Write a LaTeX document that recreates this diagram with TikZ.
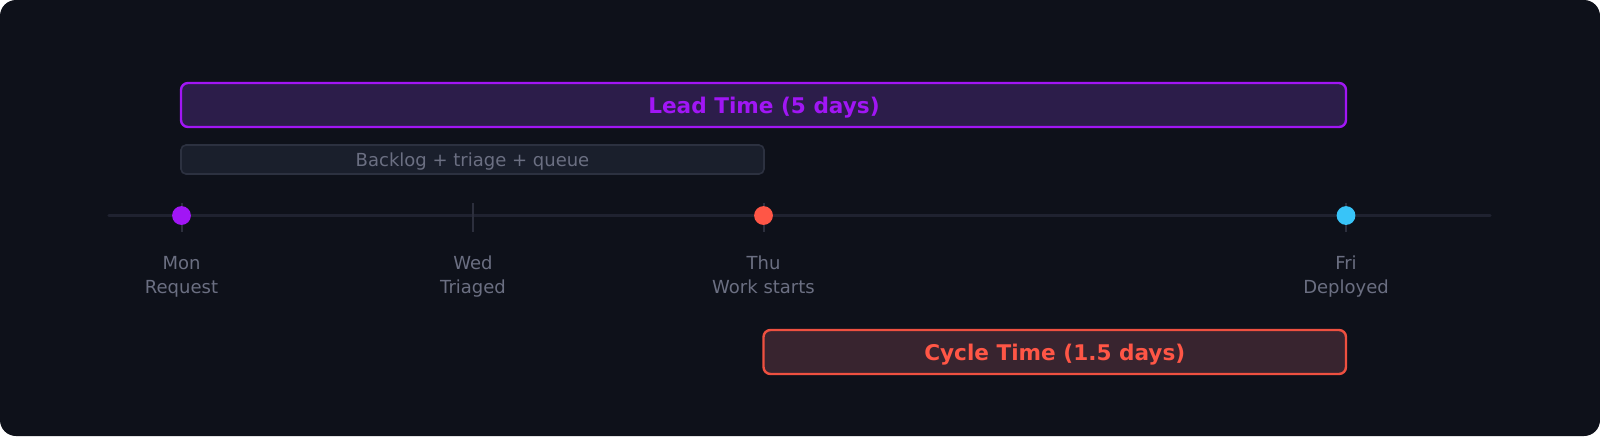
\documentclass[tikz,border=0pt]{standalone}
\usepackage{fontspec}
\setmainfont{DejaVu Sans}
\definecolor{bg}{HTML}{0E111A}
\definecolor{leadc}{HTML}{A116F5}
\definecolor{leadfill}{HTML}{2C1D4A}
\definecolor{cycc}{HTML}{FF5646}
\definecolor{cycline}{HTML}{EE5040}
\definecolor{cycfill}{HTML}{38242F}
\definecolor{bluec}{HTML}{38C4F8}
\definecolor{backfill}{HTML}{1A1F2C}
\definecolor{backline}{HTML}{2C3140}
\definecolor{axisc}{HTML}{1F2230}
\definecolor{tickc}{HTML}{2C2F3D}
\definecolor{labc}{HTML}{6B6F82}
\begin{document}
\begin{tikzpicture}[x=0.5pt,y=-0.5pt,
  lbl/.style={font=\fontsize{9}{11}\selectfont, text=labc, anchor=base, inner sep=0},
  bigtxt/.style={font=\fontsize{10.8}{13}\selectfont\bfseries, anchor=base, inner sep=0},
  tick/.style={draw=tickc, line width=1pt},
  dot/.style={circle, inner sep=0, minimum size=9.4pt}]
\useasboundingbox (0,0) rectangle (1600,436);
\fill[white] (0,0) rectangle (1600,436);
\fill[bg, rounded corners=8pt] (0,0) rectangle (1600,436);

% lead time box
\draw[draw=leadc, fill=leadfill, line width=1.2pt, rounded corners=3.5pt] (181,83) rectangle (1346,127);
\node[bigtxt, text=leadc] (lead) at (764,113) {Lead Time (5 days)};

% backlog box
\draw[draw=backline, fill=backfill, line width=0.8pt, rounded corners=2.5pt] (181,145) rectangle (764,174);
\node[lbl] (backlog) at (472.5,166) {Backlog + triage + queue};

% axis
\coordinate (axL) at (109,215.5);
\coordinate (axR) at (1490,215.5);
\draw[axisc, line width=1.6pt, line cap=round] (axL) -- (axR);

% ticks
\foreach \n/\x in {mon/181.5, wed/473, thu/763.5, fri/1346}{
  \coordinate (\n t) at (\x,203);
  \coordinate (\n b) at (\x,232);
  \draw[tick] (\n t) -- (\n b);
}

% dots
\node[dot, fill=leadc] (mon) at (181.5,215.5) {};
\node[dot, fill=cycc] (thu) at (763.5,215.5) {};
\node[dot, fill=bluec] (fri) at (1346,215.5) {};

% labels
\node[lbl] (l1a) at (181.5,269) {Mon};
\node[lbl] (l1b) at (181.5,293.5) {Request};
\node[lbl] (l2a) at (473,269) {Wed};
\node[lbl] (l2b) at (473,293.5) {Triaged};
\node[lbl] (l3a) at (763.5,269) {Thu};
\node[lbl] (l3b) at (763.5,293.5) {Work starts};
\node[lbl] (l4a) at (1346,269) {Fri};
\node[lbl] (l4b) at (1346,293.5) {Deployed};

% cycle time box
\draw[draw=cycline, fill=cycfill, line width=1.2pt, rounded corners=3.5pt] (763.5,330) rectangle (1346,374);
\node[bigtxt, text=cycc] (cycle) at (1054.75,360) {Cycle Time (1.5 days)};
\end{tikzpicture}
\end{document}
